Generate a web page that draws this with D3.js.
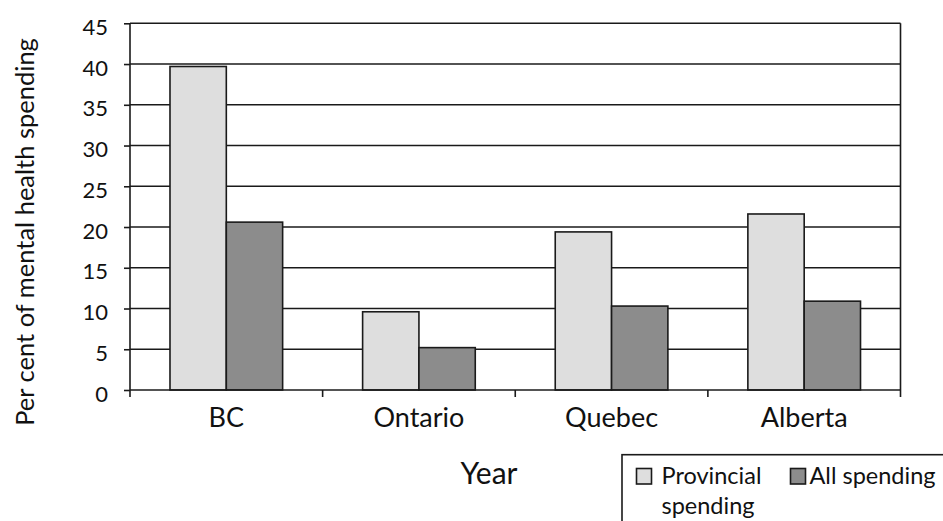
<!DOCTYPE html>
<html>
<head>
<meta charset="utf-8">
<script src="https://cdn.jsdelivr.net/npm/d3@7"></script>
<style>
  html, body { margin: 0; padding: 0; background: #fff; }
  svg { display: block; font-family: Lato, "Open Sans", sans-serif; }
</style>
</head>
<body>
<svg id="chart" width="943" height="521"></svg>
<script>
// Share of mental health spending, by province
const categories = ["BC", "Ontario", "Quebec", "Alberta"];
const seriesNames = ["Provincial spending", "All spending"];
const provincial = [39.7, 9.6, 19.4, 21.6];
const allSpending = [20.6, 5.2, 10.3, 10.9];
const yTicks = [0, 5, 10, 15, 20, 25, 30, 35, 40, 45];
const seriesColors = ["#dedede", "#8c8c8c"];

const svg = d3.select("#chart");
const plotLeft = 130, plotRight = 900.5, plotTop = 23.3, plotBottom = 390;

const x0 = d3.scaleBand().domain(categories).range([plotLeft, plotRight]).paddingInner(0).paddingOuter(0);
const x1 = d3.scaleBand().domain(seriesNames).range([0, x0.bandwidth()]).paddingInner(0).paddingOuter(0.71);
const y = d3.scaleLinear().domain([0, 45]).range([plotBottom, plotTop]);

const ink = "#1a1a1a";

// horizontal gridlines
svg.append("g")
  .selectAll("line")
  .data(yTicks.filter(t => t > 0))
  .join("line")
  .attr("x1", plotLeft).attr("x2", plotRight)
  .attr("y1", d => y(d)).attr("y2", d => y(d))
  .attr("stroke", ink).attr("stroke-width", 1.6);

// bars
const rows = categories.map((c, i) => ({ cat: c, values: [provincial[i], allSpending[i]] }));
const groups = svg.append("g").selectAll("g")
  .data(rows)
  .join("g")
  .attr("transform", d => `translate(${x0(d.cat)},0)`);

groups.selectAll("rect")
  .data(d => d.values.map((v, j) => ({ name: seriesNames[j], value: v, j })))
  .join("rect")
  .attr("x", d => x1(d.name))
  .attr("width", x1.bandwidth())
  .attr("y", d => y(d.value))
  .attr("height", d => y(0) - y(d.value))
  .attr("fill", d => seriesColors[d.j])
  .attr("stroke", ink)
  .attr("stroke-width", 1.6);

// y axis
const yAxis = d3.axisLeft(y).tickValues(yTicks).tickSize(6).tickPadding(16).tickSizeOuter(0);
const ya = svg.append("g").attr("transform", `translate(${plotLeft},0)`).call(yAxis);
ya.attr("font-size", null).attr("font-family", null);
ya.select(".domain").remove();
ya.selectAll(".tick line").attr("stroke", ink).attr("stroke-width", 1.6);
ya.selectAll(".tick text")
  .attr("font-size", 22).attr("fill", "#111").attr("dy", "0.5em");
svg.append("line")
  .attr("x1", plotLeft).attr("x2", plotLeft).attr("y1", plotTop).attr("y2", plotBottom + 7)
  .attr("stroke", ink).attr("stroke-width", 1.6);

// x axis baseline, category boundary ticks and right edge
svg.append("line")
  .attr("x1", plotLeft).attr("x2", plotRight).attr("y1", plotBottom).attr("y2", plotBottom)
  .attr("stroke", ink).attr("stroke-width", 1.6);
const boundaries = categories.map(c => x0(c) + x0.bandwidth());
svg.append("g").selectAll("line")
  .data(boundaries)
  .join("line")
  .attr("x1", d => d).attr("x2", d => d)
  .attr("y1", (d, i) => i === boundaries.length - 1 ? plotTop : plotBottom)
  .attr("y2", plotBottom + 7)
  .attr("stroke", ink).attr("stroke-width", 1.6);

// category labels
svg.append("g").selectAll("text")
  .data(categories)
  .join("text")
  .attr("x", d => x0(d) + x0.bandwidth() / 2)
  .attr("y", 427)
  .attr("text-anchor", "middle")
  .attr("font-size", 27)
  .attr("fill", "#111")
  .text(d => d);

// axis titles
svg.append("text")
  .attr("x", 489).attr("y", 484)
  .attr("text-anchor", "middle")
  .attr("font-size", 30)
  .attr("fill", "#111")
  .text("Year");

svg.append("text")
  .attr("transform", "translate(34,232) rotate(-90)")
  .attr("text-anchor", "middle")
  .attr("font-size", 25.5)
  .attr("fill", "#111")
  .text("Per cent of mental health spending");

// legend
const lg = svg.append("g");
lg.append("rect")
  .attr("x", 622).attr("y", 454.7)
  .attr("width", 400).attr("height", 120)
  .attr("fill", "#fff").attr("stroke", ink).attr("stroke-width", 1.6);

const legendItems = [
  { x: 636.5, lines: ["Provincial", "spending"] },
  { x: 790.5, lines: ["All spending"] }
];
legendItems.forEach((item, j) => {
  lg.append("rect")
    .attr("x", item.x).attr("y", 468.5)
    .attr("width", 15).attr("height", 15.5)
    .attr("fill", seriesColors[j]).attr("stroke", ink).attr("stroke-width", 1.6);
  item.lines.forEach((t, k) => {
    lg.append("text")
      .attr("x", item.x + (j === 0 ? 25 : 19))
      .attr("y", 484 + k * 30)
      .attr("font-size", 23.5)
      .attr("fill", "#111")
      .text(t);
  });
});
</script>
</body>
</html>
